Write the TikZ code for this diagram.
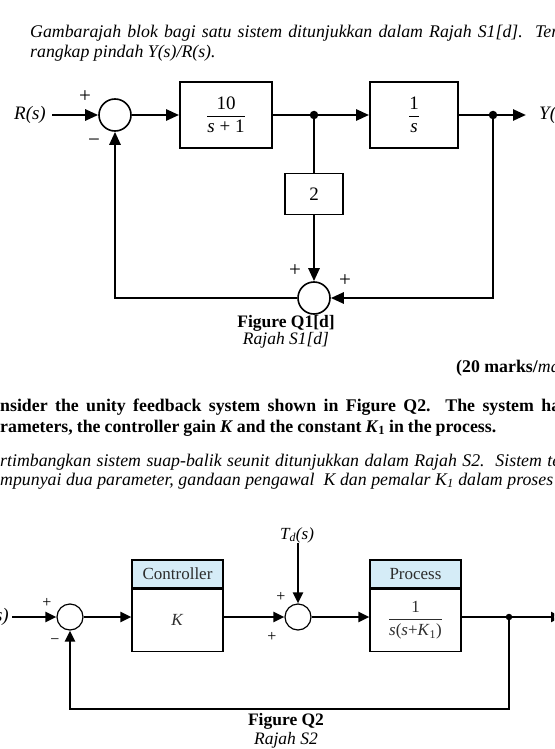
\documentclass[tikz,border=0pt]{standalone}
\usepackage{amsmath}
\usepackage{fontspec}
\setmainfont{Liberation Serif}
\usetikzlibrary{arrows.meta}
\definecolor{hdrblue}{RGB}{213,236,247}
\definecolor{txtgrey}{RGB}{45,45,45}

\begin{document}
\begin{tikzpicture}[x=1pt,y=-1pt,
    para/.style={anchor=west,inner sep=0pt,font=\fontsize{17.8}{20.5}\selectfont},
    capt/.style={inner sep=0pt,font=\fontsize{17.5}{20.5}\selectfont},
    lbl/.style={inner sep=0pt,font=\fontsize{19}{22}\selectfont},
    sgn/.style={inner sep=0pt,font=\fontsize{16}{18}\selectfont},
    sgnA/.style={inner sep=0pt,font=\fontsize{21}{24}\selectfont},
    sigA/.style={line width=2.6pt},
    arrA/.style={sigA,-{Triangle[length=13pt,width=11pt]}},
    blkA/.style={draw,line width=1.8pt,inner sep=0pt,font=\fontsize{19}{22}\selectfont},
    sumA/.style={draw,circle,line width=1.6pt,minimum size=32pt,inner sep=0pt},
    dotA/.style={circle,fill,inner sep=0pt,minimum size=8.5pt},
    sigB/.style={line width=2.1pt},
    arrB/.style={sigB,-{Triangle[length=11pt,width=10pt]}},
    blkB/.style={draw,line width=1.2pt,inner sep=0pt,minimum width=91pt,text=txtgrey,font=\fontsize{17}{20}\selectfont},
    sumB/.style={draw,circle,line width=1.2pt,minimum size=26pt,inner sep=0pt},
    dotB/.style={circle,fill,inner sep=0pt,minimum size=6.5pt}]

\useasboundingbox (0,0) rectangle (554,749);
\clip (0,0) rectangle (554,749);

\node[para] (introA) at (30,33) {\makebox[528pt][s]{\itshape Gambarajah blok bagi satu sistem ditunjukkan dalam Rajah S1[d].\ \ Ter}};
\node[para] (introB) at (30,53) {\itshape rangkap pindah Y(s)/R(s).};

\node[sumA] (sA) at (115,115) {};
\node[blkA,minimum width=92pt,minimum height=66pt] (gA) at (226,115) {$\dfrac{\text{10}}{\text{\textit{s} + 1}}$};
\node[blkA,minimum width=88pt,minimum height=66pt] (gB) at (414,115) {$\dfrac{\text{1}}{\text{\textit{s}}}$};
\node[blkA,minimum width=58pt,minimum height=41pt] (hA) at (314,194) {2};
\node[sumA] (sB) at (314,298) {};
\node[dotA] (bA) at (314,115) {};
\node[dotA] (bB) at (493,115) {};
\node[lbl,anchor=east,inner xsep=6pt] (rA) at (52,115) {\textit{R(s)}};
\node[lbl,anchor=west] (yA) at (539,115) {\textit{Y(s)}};
\coordinate (yEnd) at (526,115);

\draw[arrA] (rA) -- (sA);
\draw[arrA] (sA) -- (gA);
\draw[sigA] (gA) -- (bA);
\draw[arrA] (bA) -- (gB);
\draw[sigA] (gB) -- (bB);
\draw[arrA] (bB) -- (yEnd);
\draw[sigA] (bA) -- (hA);
\draw[arrA] (hA) -- (sB);
\draw[arrA] (bB) |- (sB);
\draw[arrA] (sB) -| (sA);

\node[sgnA] at (85,97) {+};
\node[sgnA] at (94,143) {−};
\node[sgnA] at (295,271) {+};
\node[sgnA] at (345,281) {+};

\node[capt] (figA) at (286,323) {\bfseries Figure Q1[d]};
\node[capt] (rajA) at (286,340) {\itshape Rajah S1[d]};
\node[para] (mk) at (456,368) {\textbf{(20 marks/}\textit{ma}};

\node[para] (qA) at (0,407) {\makebox[560pt][s]{\bfseries nsider the unity feedback system shown in Figure Q2.\ \ The system ha}};
\node[para] (qB) at (0,428) {\makebox[496pt][s]{\bfseries rameters, the controller gain \textit{K} and the constant \textit{K}\textsubscript{1} in the process.}};
\node[para] (qC) at (0,462) {\makebox[560pt][s]{\itshape rtimbangkan sistem suap-balik seunit ditunjukkan dalam Rajah S2.\ \ Sistem te}};
\node[para] (qD) at (0,481) {\makebox[553pt][s]{\itshape mpunyai dua parameter, gandaan pengawal\ \ K dan pemalar K\textsubscript{1} dalam proses}};

\node[sumB] (tA) at (70,617) {};
\node[sumB] (tB) at (298,617) {};
\node[blkB,fill=hdrblue,minimum height=28pt] (ctrlH) at (177.5,574) {Controller};
\node[blkB,minimum height=62pt,anchor=north] (ctrl) at (ctrlH.south) {\textit{K}};
\node[blkB,fill=hdrblue,minimum height=28pt] (procH) at (415.5,574) {Process};
\node[blkB,minimum height=62pt,anchor=north] (proc) at (procH.south) {$\dfrac{\text{1}}{\text{\textit{s}(\textit{s}+\textit{K}\textsubscript{1})}}$};
\node[dotB] (bC) at (509,617) {};
\node[lbl,anchor=east,inner xsep=3pt] (rB) at (12,617) {\textit{R(s)}};
\node[lbl,font=\fontsize{17}{20}\selectfont] (td) at (297,535) {\textit{T\textsubscript{d}(s)}};
\coordinate (oEnd) at (562,617);
\coordinate (fb) at (509,709);

\draw[arrB] (rB) -- (tA);
\draw[arrB] (tA) -- (tA -| ctrl.west);
\draw[arrB] (tA -| ctrl.east) -- (tB);
\draw[arrB] (tB) -- (tB -| proc.west);
\draw[sigB] (tB -| proc.east) -- (bC);
\draw[arrB] (bC) -- (oEnd);
\draw[arrB] (td.south -| tB) -- (tB);
\draw[arrB] (bC) -- (fb) -| (tA);

\node[sgn] at (47,603) {+};
\node[sgn] at (55,642) {−};
\node[sgn] at (281,597) {+};
\node[sgn] at (272,637) {+};

\node[capt] (figB) at (286,721) {\bfseries Figure Q2};
\node[capt] (rajB) at (286,740) {\itshape Rajah S2};
\end{tikzpicture}
\end{document}
